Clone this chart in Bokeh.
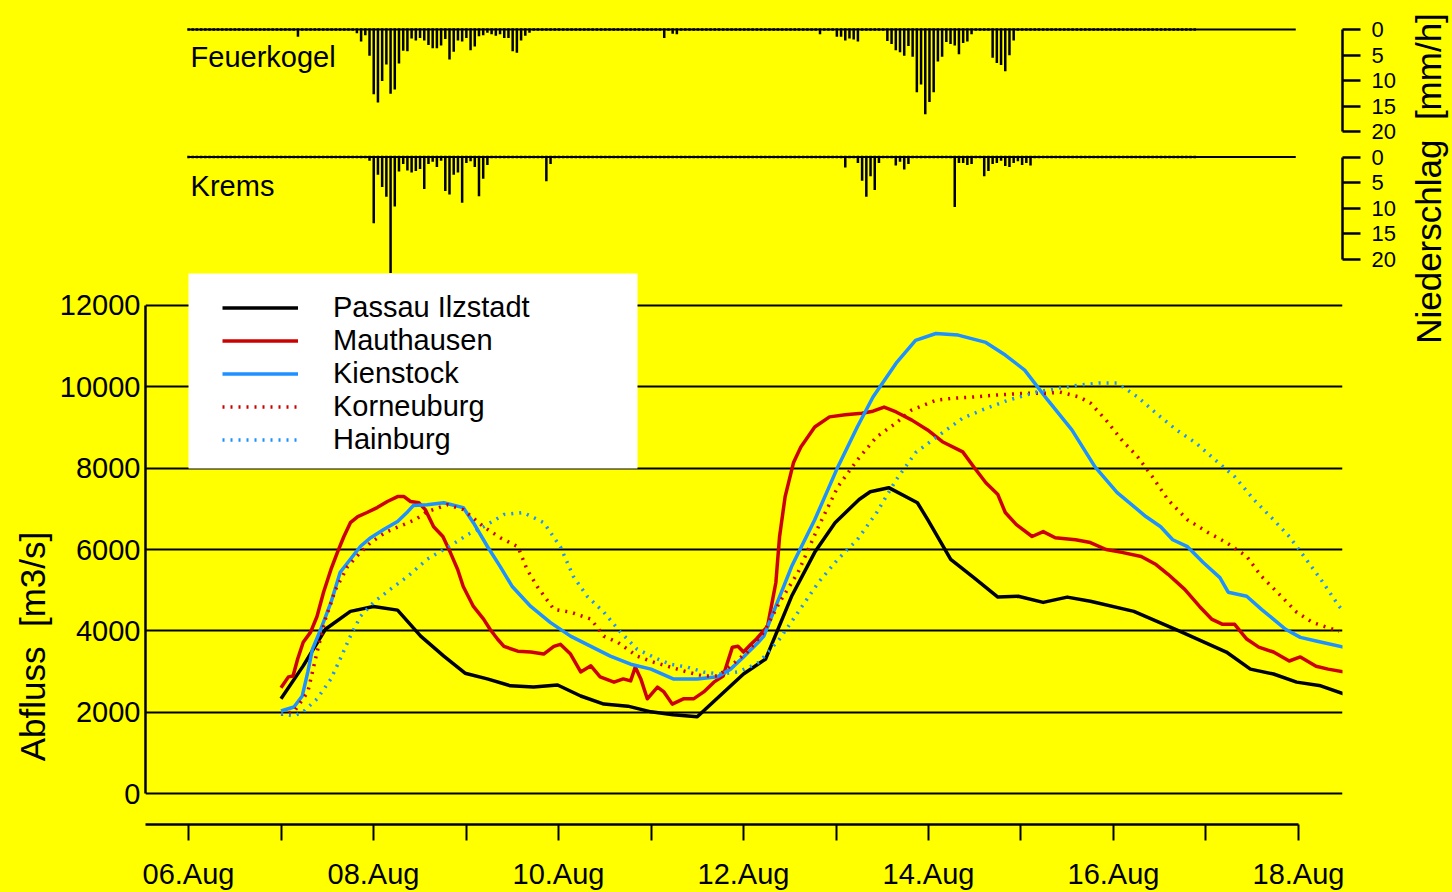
import math
from bokeh.plotting import figure
from bokeh.models import Range1d, FixedTicker, Legend, LegendItem, Label, BoxAnnotation
from bokeh.layouts import column, row
from bokeh.embed import file_html
from bokeh.resources import INLINE

# ---------------- data ----------------
# Discharge (m3/s); time in days of August (decimal day of month)
passau_t = [7.00, 7.24, 7.48, 7.75, 8.00, 8.26, 8.51, 8.76, 8.99, 9.23, 9.48, 9.73, 9.99, 10.24, 10.49,
            10.75, 11.00, 11.24, 11.50, 12.00, 12.24, 12.52, 12.77, 12.99, 13.25, 13.37, 13.57, 13.88,
            13.99, 14.24, 14.49, 14.75, 14.97, 15.24, 15.50, 15.75, 16.22, 16.72, 17.22, 17.48, 17.73,
            17.98, 18.24, 18.49]
passau_q = [2330, 3140, 4040, 4480, 4600, 4510, 3870, 3380, 2960, 2820, 2650, 2620, 2670, 2400, 2200,
            2150, 2010, 1940, 1890, 2940, 3310, 4850, 5930, 6660, 7230, 7420, 7520, 7150,
            6740, 5760, 5310, 4830, 4850, 4700, 4830, 4730, 4480, 3990, 3480, 3060, 2940,
            2740, 2650, 2450]

maut_t = [7.00, 7.08, 7.13, 7.18, 7.24, 7.32, 7.39, 7.46, 7.54, 7.61, 7.68, 7.75, 7.83, 7.93, 8.04, 8.15,
          8.26, 8.33, 8.40, 8.49, 8.56, 8.65, 8.75, 8.83, 8.91, 8.97, 9.08, 9.19, 9.26, 9.34, 9.41, 9.56,
          9.70, 9.84, 9.95, 10.02, 10.13, 10.24, 10.35, 10.45, 10.60, 10.70, 10.78, 10.83, 10.89, 10.96,
          11.07, 11.14, 11.23, 11.35, 11.46, 11.57, 11.68, 11.78, 11.88, 11.94, 12.00, 12.08, 12.14,
          12.26, 12.35, 12.39, 12.45, 12.54, 12.62, 12.77, 12.93, 13.10, 13.28, 13.40, 13.52, 13.65,
          13.82, 13.99, 14.15, 14.37, 14.49, 14.62, 14.75, 14.83, 14.95, 15.12, 15.24, 15.37, 15.59,
          15.75, 15.92, 16.09, 16.30, 16.46, 16.59, 16.77, 16.93, 17.06, 17.18, 17.31, 17.44, 17.57,
          17.73, 17.90, 18.02, 18.19, 18.32, 18.49]
maut_q = [2600, 2870, 2890, 3310, 3720, 3970, 4360, 4950, 5510, 5930, 6320, 6660, 6810, 6910, 7030, 7180,
          7300, 7300, 7180, 7150, 6980, 6560, 6320, 5930, 5510, 5090, 4600, 4290, 4040, 3800, 3620, 3500,
          3480, 3430, 3620, 3670, 3430, 2990, 3140, 2870, 2740, 2820, 2770, 3110, 2820, 2330,
          2620, 2500, 2200, 2330, 2330, 2500, 2740, 2890, 3600, 3620, 3480, 3670, 3800,
          4110, 5190, 6320, 7300, 8130, 8520, 9010, 9260, 9310, 9350, 9400, 9500, 9380,
          9180, 8940, 8650, 8400, 8030, 7640, 7350, 6910, 6610, 6320, 6440, 6290, 6240,
          6170, 6000, 5930, 5830, 5630, 5390, 5020, 4600, 4290, 4160, 4160, 3800, 3600,
          3480, 3260, 3360, 3130, 3060, 2990]

kien_t = [7.00, 7.14, 7.23, 7.29, 7.34, 7.43, 7.54, 7.64, 7.75, 7.86, 7.97, 8.11, 8.26, 8.37, 8.43, 8.58,
          8.76, 8.97, 9.08, 9.23, 9.37, 9.50, 9.70, 9.91, 10.13, 10.35, 10.56, 10.78, 11.00, 11.24, 11.50,
          11.72, 11.86, 12.00, 12.16, 12.22, 12.52, 12.77, 13.02, 13.23, 13.40, 13.65, 13.86, 14.08,
          14.32, 14.62, 14.83, 15.04, 15.29, 15.55, 15.80, 16.04, 16.35, 16.51, 16.64, 16.80, 16.97,
          17.15, 17.24, 17.44, 17.60, 17.86, 18.02, 18.19, 18.49]
kien_q = [2030, 2130, 2400, 2990, 3550, 4040, 4700, 5440, 5760, 6080, 6290, 6490, 6690, 6930, 7080, 7100,
          7150, 7030, 6660, 6080, 5580, 5090, 4600, 4210, 3870, 3620, 3380, 3180, 3060, 2820, 2820,
          2870, 3060, 3360, 3720, 3870, 5580, 6730, 8030, 9010, 9750, 10580, 11140, 11310,
          11270, 11090, 10780, 10410, 9670, 8940, 8030, 7400, 6810, 6560, 6240, 6070, 5680,
          5310, 4950, 4850, 4530, 4040, 3840, 3750, 3600]

korn_t = [7.00, 7.14, 7.29, 7.39, 7.48, 7.59, 7.72, 7.86, 7.97, 8.13, 8.27, 8.45, 8.58, 8.80, 8.97, 9.19,
          9.37, 9.56, 9.66, 9.77, 9.95, 10.13, 10.35, 10.49, 10.64, 10.85, 11.03, 11.21, 11.39, 11.57,
          11.72, 11.86, 12.04, 12.22, 12.39, 12.59, 12.81, 13.02, 13.23, 13.44, 13.65, 13.82, 14.08,
          14.28, 14.49, 14.75, 15.04, 15.29, 15.42, 15.63, 15.75, 15.92, 16.09, 16.26, 16.42, 16.59,
          16.80, 17.02, 17.22, 17.44, 17.60, 17.77, 17.98, 18.15, 18.28, 18.44]
korn_q = [1950, 2010, 2500, 3480, 4290, 5020, 5580, 5930, 6170, 6420, 6560, 6730, 6930, 7100, 6980, 6560,
          6290, 6070, 5510, 5090, 4530, 4460, 4290, 3870, 3720, 3380, 3230, 3110, 2990, 2890,
          2890, 3140, 3480, 3970, 4700, 5440, 6560, 7540, 8200, 8770, 9110, 9430, 9670,
          9720, 9750, 9800, 9840, 9840, 9870, 9750, 9600, 9180, 8690, 8280, 7790, 7220,
          6730, 6420, 6170, 5830, 5340, 4950, 4460, 4210, 4110, 3990]

hain_t = [7.00, 7.14, 7.24, 7.39, 7.54, 7.64, 7.75, 7.86, 8.00, 8.18, 8.37, 8.58, 8.76, 8.85, 9.02, 9.19,
          9.41, 9.62, 9.84, 10.02, 10.16, 10.31, 10.49, 10.67, 10.85, 11.07, 11.21, 11.39, 11.57, 11.75,
          11.94, 12.08, 12.17, 12.39, 12.59, 12.81, 13.02, 13.23, 13.44, 13.65, 13.86, 14.15, 14.37,
          14.58, 14.86, 15.17, 15.42, 15.63, 15.84, 16.04, 16.26, 16.46, 16.68, 16.89, 17.10, 17.31,
          17.52, 17.73, 17.90, 18.06, 18.24, 18.44, 18.49]
hain_q = [1960, 1910, 2010, 2330, 2820, 3310, 3870, 4360, 4700, 5020, 5340, 5760, 6000, 6120, 6370, 6560,
          6860, 6910, 6660, 6070, 5340, 4850, 4460, 3970, 3550, 3310, 3180, 3110, 2990, 2940,
          2990, 3130, 3230, 3800, 4460, 5190, 5760, 6240, 6910, 7710, 8380, 8870, 9230,
          9430, 9670, 9870, 9970, 10040, 10090, 10090, 9750, 9350, 8940, 8620, 8200, 7790,
          7220, 6730, 6320, 5830, 5270, 4600, 4480]

station_names = ["Passau Ilzstadt", "Mauthausen", "Kienstock", "Korneuburg", "Hainburg"]

# Hourly precipitation (mm/h), one row per day, starting 06.Aug 00:00
feuerkogel_mm = (
    [0] * 24 +
    [0, 0, 1.2, 0, 0, 0, 0, 0, 0, 0, 0, 0, 0, 0, 0, 0, 0.5, 2.1, 0.9, 4.9, 12.4, 14.0, 9.8, 6.6] +
    [12.3, 11.5, 6.4, 3.9, 4.0, 1.5, 1.9, 1.4, 1.9, 2.8, 3.4, 3.4, 2.9, 1.6, 5.6, 4.1, 1.9, 2.1, 1.4, 3.8, 3.1, 1.1, 0.9, 0.4] +
    [0.7, 1.0, 0.7, 1.4, 1.4, 4.0, 4.3, 1.9, 1.0, 0.4, 0, 0, 0, 0, 0, 0, 0, 0, 0, 0, 0, 0, 0, 0] +
    [0, 0, 0, 0, 0, 0, 0, 0, 0, 0, 0, 0, 0, 0, 0, 0, 0, 1.4, 0, 0.6, 0.7, 0, 0, 0] +
    [0] * 24 +
    [0, 0, 0, 0, 0, 0, 0.7, 0, 0, 0, 1.2, 1.2, 1.9, 1.5, 1.7, 2.1, 0, 0, 0, 0, 0, 0, 2.0, 2.6] +
    [3.8, 4.2, 4.9, 3.0, 5.1, 12.0, 10.5, 16.3, 13.9, 12.0, 6.0, 5.1, 2.2, 2.6, 2.9, 4.6, 2.4, 2.1, 0.7, 0, 0, 0, 0, 5.3] +
    [6.3, 6.7, 7.9, 4.8, 1.9, 0, 0, 0, 0, 0, 0, 0, 0, 0, 0, 0, 0, 0, 0, 0, 0, 0, 0, 0] +
    [0] * 24
)
krems_mm = (
    [0] * 24 +
    [0, 0, 0, 0, 0, 0, 0, 0, 0, 0, 0, 0, 0, 0, 0, 0, 0, 0, 0, 0.5, 12.7, 3.2, 5.6, 7.5] +
    [23.0, 9.4, 2.6, 1.1, 2.4, 2.8, 2.5, 2.1, 6.0, 1.1, 0.7, 1.7, 0.5, 6.4, 7.1, 3.2, 2.8, 8.7, 0.9, 0.6, 1.7, 7.4, 4.0, 1.3] +
    [0, 0, 0, 0, 0, 0, 0, 0, 0, 0, 0, 0, 0, 4.5, 1.1, 0, 0, 0, 0, 0, 0, 0, 0, 0] +
    [0] * 24 +
    [0] * 24 +
    [0, 0, 0, 0, 0, 0, 0, 0, 0, 0, 0, 0, 1.8, 0, 0, 0.9, 4.4, 7.5, 3.5, 6.2, 0.9, 0, 0, 0] +
    [1.4, 0.7, 2.2, 1.1, 0, 0, 0, 0, 0, 0, 0, 0, 0, 0, 9.5, 0.9, 0.9, 1.3, 1.1, 0, 0, 3.5, 2.5, 1.1] +
    [0.9, 0.5, 1.5, 1.7, 0.9, 0.6, 1.3, 0.9, 1.4, 0, 0, 0, 0, 0, 0, 0, 0, 0, 0, 0, 0, 0, 0, 0] +
    [0] * 24
)
precip_axis_end_hour = 263

day_ticks = [6, 7, 8, 9, 10, 11, 12, 13, 14, 15, 16, 17, 18]
day_labels = ["06.Aug", "", "08.Aug", "", "10.Aug", "", "12.Aug", "", "14.Aug", "", "16.Aug", "", "18.Aug"]
q_ticks = [0, 2000, 4000, 6000, 8000, 10000, 12000]
mm_ticks = [0, 5, 10, 15, 20]

# ---------------- style ----------------
FONT = "Liberation Sans"
YEL = "#FFFF00"
RED = "#CD0000"
BLUE = "#1E90FF"
W = 1355          # width of the stacked panels
BL, BR = 90, 68   # borders around the common plot frame


def base_style(p):
    p.background_fill_color = YEL
    p.border_fill_color = YEL
    p.outline_line_color = None


def precip_panel(name, mm, height, ymin, ymax, label_y):
    p = figure(width=W, height=height,
               x_range=Range1d(-10.21, 274.1), y_range=Range1d(ymax, ymin),
               x_axis_location=None, y_axis_location="right",
               output_backend="svg", toolbar_location=None,
               min_border_left=BL, min_border_right=BR, min_border_top=0, min_border_bottom=0)
    base_style(p)
    p.grid.visible = False
    ax = p.yaxis[0]
    ax.ticker = FixedTicker(ticks=mm_ticks)
    ax.bounds = (0, 20)
    ax.major_tick_out = 18
    ax.major_tick_in = 0
    ax.minor_tick_out = 0
    ax.minor_tick_in = 0
    ax.axis_line_width = 2.5
    ax.major_tick_line_width = 2.5
    ax.major_label_text_font = FONT
    ax.major_label_text_font_size = "22px"
    ax.major_label_text_color = "black"
    ax.major_label_standoff = 11
    hrs = list(range(len(mm)))
    p.line(x=[hrs[0], precip_axis_end_hour], y=[0, 0], line_color="black", line_width=2)
    p.segment(x0=hrs, y0=[0] * len(mm), x1=hrs, y1=mm, line_color="black",
              line_width=2.5, line_cap="square")
    p.add_layout(Label(x=0.5, y=label_y, text=name, text_font=FONT, text_font_size="29px",
                       text_baseline="alphabetic", text_color="black"))
    return p


f1 = precip_panel("Feuerkogel", feuerkogel_mm, 143, -5.66, 22.27, 5.45)
f2 = precip_panel("Krems", krems_mm, 130, -2.64, 22.75, 5.75)

pm = figure(width=W, height=619, x_range=Range1d(5.5351, 18.4757), y_range=Range1d(-759, 12784),
            output_backend="svg", toolbar_location=None,
            min_border_left=BL, min_border_right=BR, min_border_top=0, min_border_bottom=66)
base_style(pm)
pm.xgrid.visible = False
pm.ygrid.ticker = FixedTicker(ticks=q_ticks)
pm.ygrid.grid_line_color = "black"
pm.ygrid.grid_line_width = 2

ya = pm.yaxis[0]
ya.ticker = FixedTicker(ticks=q_ticks)
ya.bounds = (0, 12000)
ya.major_tick_out = 0
ya.major_tick_in = 0
ya.minor_tick_out = 0
ya.minor_tick_in = 0
ya.axis_line_width = 2.5
ya.major_label_text_font = FONT
ya.major_label_text_font_size = "29px"
ya.major_label_text_color = "black"
ya.major_label_standoff = 5

xa = pm.xaxis[0]
xa.ticker = FixedTicker(ticks=day_ticks)
xa.major_label_overrides = {t: lab for t, lab in zip(day_ticks, day_labels)}
xa.bounds = (5.5351, 18)
xa.major_tick_out = 16
xa.major_tick_in = 0
xa.minor_tick_out = 0
xa.minor_tick_in = 0
xa.axis_line_width = 2.5
xa.major_tick_line_width = 2
xa.major_label_text_font = FONT
xa.major_label_text_font_size = "29px"
xa.major_label_text_color = "black"
xa.major_label_standoff = 17

r1 = pm.line(passau_t, passau_q, line_color="black", line_width=3.5, line_join="round")
r2 = pm.line(maut_t, maut_q, line_color=RED, line_width=3.5, line_join="round")
r3 = pm.line(kien_t, kien_q, line_color=BLUE, line_width=3.5, line_join="round")
r4 = pm.line(korn_t, korn_q, line_color=RED, line_width=3.5, line_dash="2 6")
r5 = pm.line(hain_t, hain_q, line_color=BLUE, line_width=3.5, line_dash="2 6")

# white legend panel (screen units relative to the plot frame)
pm.add_layout(BoxAnnotation(left=43, right=492, bottom=356, top=553,
                            left_units="screen", right_units="screen",
                            bottom_units="screen", top_units="screen",
                            fill_color="white", fill_alpha=1, line_color=None))

legend = Legend(
    items=[LegendItem(label=n, renderers=[r]) for n, r in zip(station_names, [r1, r2, r3, r4, r5])],
    location=(77, 368), orientation="vertical", padding=0, spacing=0, margin=0,
    glyph_width=76, glyph_height=33, label_height=33, label_standoff=35,
    background_fill_alpha=0, border_line_color=None,
    label_text_font=FONT, label_text_font_size="29px", label_text_color="black")
pm.add_layout(legend)

# left label panel
fa = figure(width=55, height=892, x_range=Range1d(0, 1), y_range=Range1d(0, 1),
            x_axis_location=None, y_axis_location=None, output_backend="svg",
            toolbar_location=None, min_border=0)
base_style(fa)
fa.grid.visible = False
fa.add_layout(Label(x=32, y=246, x_units="screen", y_units="screen", angle=math.pi / 2,
                    text="Abfluss\u00a0 [m3/s]", text_font=FONT, text_font_size="35px",
                    text_color="black", text_align="center", text_baseline="alphabetic"))

# right label panel
fl = figure(width=42, height=360, x_range=Range1d(0, 1), y_range=Range1d(0, 1),
            x_axis_location=None, y_axis_location=None, output_backend="svg",
            toolbar_location=None, min_border=0)
base_style(fl)
fl.grid.visible = False
fl.add_layout(Label(x=18, y=182, x_units="screen", y_units="screen", angle=math.pi / 2,
                    text="Niederschlag\u00a0 [mm/h]", text_font=FONT, text_font_size="35px",
                    text_color="black", text_align="center", text_baseline="alphabetic"))

layout = row(fa, column(f1, f2, pm), fl)

html = file_html(layout, INLINE, title="Abfluss und Niederschlag")
html = html.replace("</head>", "<style>body{background:#FFFF00;}</style></head>", 1)
open("out.html", "w").write(html)
